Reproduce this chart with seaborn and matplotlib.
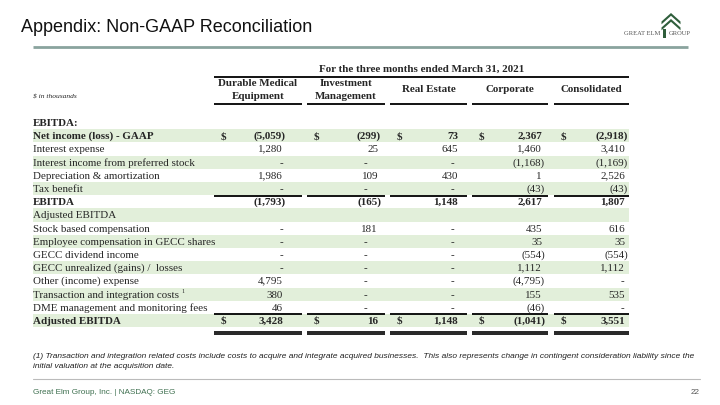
import matplotlib
matplotlib.use("Agg")
import matplotlib.pyplot as plt
from matplotlib.colors import ListedColormap
from matplotlib.patches import Polygon
import numpy as np
import pandas as pd
import seaborn as sns

# ---------------- data ----------------
title = "Appendix: Non-GAAP Reconciliation"
period = "For the three months ended March 31, 2021"
columns = [["Durable Medical", "Equipment"], ["Investment", "Management"],
           ["Real Estate"], ["Corporate"], ["Consolidated"]]
row_labels = ["EBITDA:", "Net income (loss) - GAAP", "Interest expense",
              "Interest income from preferred stock", "Depreciation & amortization",
              "Tax benefit", "EBITDA", "Adjusted EBITDA", "Stock based compensation",
              "Employee compensation in GECC shares", "GECC dividend income",
              "GECC unrealized (gains) /  losses", "Other (income) expense",
              "Transaction and integration costs", "DME management and monitoring fees",
              "Adjusted EBITDA"]
dme = [None, -5059, 1280, 0, 1986, 0, -1793, None, 0, 0, 0, 0, 4795, 380, 46, 3428]
inv_mgmt = [None, -299, 25, 0, 109, 0, -165, None, 181, 0, 0, 0, 0, 0, 0, 16]
real_estate = [None, 73, 645, 0, 430, 0, 1148, None, 0, 0, 0, 0, 0, 0, 0, 1148]
corporate = [None, 2367, 1460, -1168, 1, -43, 2617, None, 435, 35, -554, 1112, -4795, 155, -46, -1041]
consolidated = [None, -2918, 3410, -1169, 2526, -43, 1807, None, 616, 35, -554, 1112, 0, 535, 0, 3551]
bold_rows = [0, 1, 6, 15]
dollar_rows = [1, 15]
footnote = ["(1) Transaction and integration related costs include costs to acquire and integrate acquired businesses.  This also represents change in contingent consideration liability since the",
            "initial valuation at the acquisition date."]
footer = "Great Elm Group, Inc. | NASDAQ: GEG"
page = "22"

series = [dme, inv_mgmt, real_estate, corporate, consolidated]

# ---------------- layout ----------------
W, H = 720, 405
SERIF = "Liberation Serif"
SANS = "Liberation Sans"
band_color = "#E2EFDA"
col_spans = [(214, 302), (307, 385), (390, 467), (472, 548), (554, 629)]
val_right = [286, 381, 461, 545, 628]
dash_x = [281, 365, 452, 540, 622]
y0, rh = 122.5, 13.2
label_x = 33
fs = 7.9
base_off = 3.5   # baseline below row centre

sns.set_theme(style="white")
plt.rcParams["font.family"] = [SERIF, "DejaVu Serif"]

fig = plt.figure(figsize=(W / 100, H / 100), dpi=100)

# banded background drawn with seaborn heatmap
n = len(row_labels)
top = y0 - rh / 2
band = pd.DataFrame({"band": [(i % 2) for i in range(n)]}, index=row_labels)
band_ax = fig.add_axes([label_x / W, 1 - (top + n * rh) / H, (629 - label_x) / W, n * rh / H])
sns.heatmap(band, cmap=ListedColormap(["white", band_color]), cbar=False,
            xticklabels=False, yticklabels=False, ax=band_ax, linewidths=0)
band_ax.set_xlabel(""); band_ax.set_ylabel("")
band_ax.axis("off")

ax = fig.add_axes([0, 0, 1, 1])
ax.set_xlim(0, W); ax.set_ylim(H, 0)
ax.axis("off")
ax.patch.set_alpha(0)

# title + rule
ax.text(21, 27, title, fontsize=13, family=SANS, va="center", ha="left", color="#111111")
ax.plot([33, 688], [47, 47], color="#8AA39E", lw=2.0, solid_capstyle="butt")

# logo
green = "#2F5E3B"
cx_logo = 671
for yy in (13.0, 19.0):
    ax.add_patch(Polygon([[cx_logo - 9.5, yy + 8.5], [cx_logo, yy], [cx_logo + 9.5, yy + 8.5],
                          [cx_logo + 9.5, yy + 11.3], [cx_logo, yy + 2.8], [cx_logo - 9.5, yy + 11.3]],
                         closed=True, facecolor=green, edgecolor="none"))
ax.add_patch(Polygon([[663, 29], [666, 29], [666, 37.5], [663, 37.5]], closed=True,
                     facecolor=green, edgecolor="none"))
ax.text(660, 33.8, "GREAT ELM", fontsize=4.7, family=SERIF, color="#555555", ha="right", va="center")
ax.text(669, 33.8, "GROUP", fontsize=4.7, family=SERIF, color="#555555", ha="left", va="center")

# header
ax.text(421.5, 72, period, fontsize=fs, fontweight="bold", ha="center", va="baseline")
ax.plot([214, 629], [77, 77], color="black", lw=1.3, solid_capstyle="butt")
for (l, r), hdr in zip(col_spans, columns):
    cx = (l + r) / 2
    if len(hdr) == 2:
        ax.text(cx, 86, hdr[0], fontsize=fs, fontweight="bold", ha="center", va="baseline")
        ax.text(cx, 99, hdr[1], fontsize=fs, fontweight="bold", ha="center", va="baseline")
    else:
        ax.text(cx, 92, hdr[0], fontsize=fs, fontweight="bold", ha="center", va="baseline")
    ax.plot([l, r], [104, 104], color="black", lw=1.3, solid_capstyle="butt")
ax.text(33, 98, "$ in thousands", fontsize=5.4, style="italic", ha="left", va="baseline")


def fmt(v):
    if v == 0:
        return "-"
    if v < 0:
        return "({:,})".format(-v)
    return "{:,}".format(v)


renderer = fig.canvas.get_renderer()
for i, lab in enumerate(row_labels):
    y = float(round(y0 + i * rh + base_off))
    wt = "bold" if i in bold_rows else "normal"
    t = ax.text(label_x, y, lab, fontsize=fs, fontweight=wt, ha="left", va="baseline")
    if lab.startswith("Transaction"):
        bb = t.get_window_extent(renderer)
        ax.text(bb.x1 + 2, y - 5, "1", fontsize=4.3, ha="left", va="baseline")
    for c, vals in enumerate(series):
        v = vals[i]
        if v is None:
            continue
        s = fmt(v)
        if s == "-":
            ax.text(dash_x[c], y, s, fontsize=fs, fontweight=wt, ha="center", va="baseline")
        else:
            xr = val_right[c] if v < 0 else val_right[c] - 3
            # regular-weight comma-only strings render ~1px low in Agg; lift them slightly
            dy = -1.0 if ("," in s and v > 0 and wt == "normal") else 0.0
            ax.text(xr, y + dy, s, fontsize=fs, fontweight=wt, ha="right", va="baseline")
        if i in dollar_rows:
            ax.text(col_spans[c][0] + 7, y, "$", fontsize=fs, fontweight="bold", ha="left", va="baseline")

# total rules
for (l, r) in col_spans:
    ya = y0 + 6 * rh - rh / 2 + 0.5
    ax.plot([l, r], [ya, ya], color="black", lw=1.3, solid_capstyle="butt")
    yb = y0 + 15 * rh - rh / 2 + 0.5
    ax.plot([l, r], [yb, yb], color="black", lw=1.3, solid_capstyle="butt")
    yc = y0 + 15 * rh + rh / 2 + 4.5
    ax.plot([l, r], [yc, yc], color="black", lw=1.2, solid_capstyle="butt")
    ax.plot([l, r], [yc + 2.3, yc + 2.3], color="black", lw=1.2, solid_capstyle="butt")

# footnote
ax.text(33, 356, footnote[0], fontsize=6.0, family=SANS, style="italic", ha="left", va="center", color="#222222")
ax.text(33, 367, footnote[1], fontsize=6.0, family=SANS, style="italic", ha="left", va="center", color="#222222")

# footer
ax.plot([33, 700], [379, 379], color="#BBBBBB", lw=0.8)
ax.text(33, 392, footer, fontsize=5.9, family=SANS, ha="left", va="center", color="#3F7050")
ax.text(700, 392, page, fontsize=5.9, family=SANS, ha="right", va="center", color="#555555")

fig.savefig("out.png", dpi=100)
